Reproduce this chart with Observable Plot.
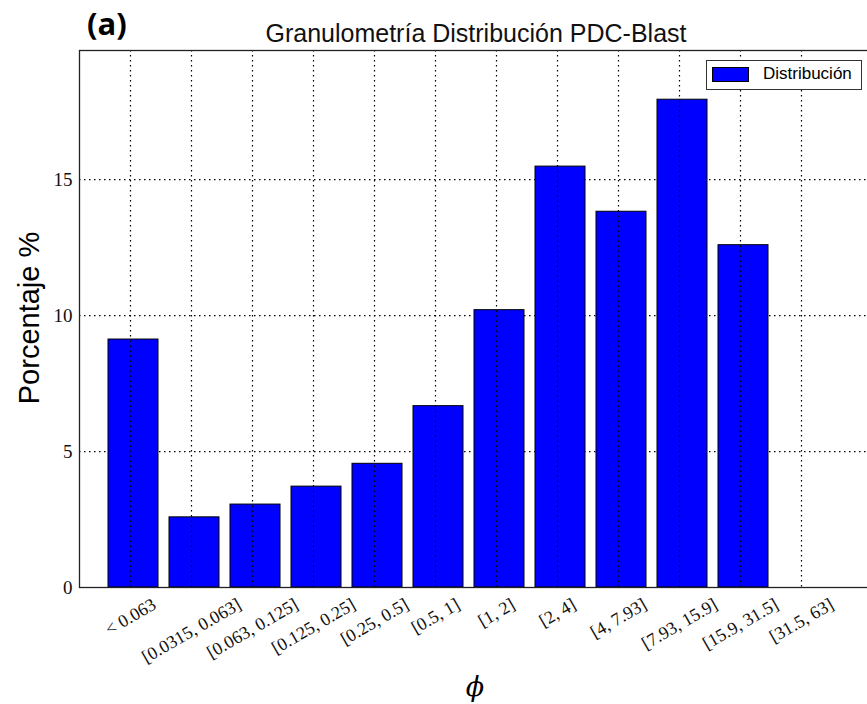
<!DOCTYPE html>
<html>
<head>
<meta charset="utf-8">
<script src="https://cdn.jsdelivr.net/npm/d3@7"></script>
<script src="https://cdn.jsdelivr.net/npm/@observablehq/plot@0.6"></script>
<style>
  html, body { margin: 0; padding: 0; background: #fff; }
  #wrap { position: relative; width: 867px; height: 704px; overflow: hidden; background: #fff; }
  #wrap svg { position: absolute; left: 0; top: 0; max-width: none !important; }
  .lbl { position: absolute; white-space: nowrap; line-height: 1; color: #000; }
  #title { left: 476px; top: 33px; transform: translate(-50%, -50%); font: 25px "Liberation Sans", Arial, sans-serif; color: #111; }
  #panel { left: 87px; top: 2px; font: bold 31px "Open Sans", "Liberation Sans", sans-serif; }
  #ylab { left: 29px; top: 318px; transform: translate(-50%, -50%) rotate(-90deg); font: 29px "Liberation Sans", Arial, sans-serif; }
  #xlab { left: 475px; top: 686px; transform: translate(-50%, -50%); font: italic 27px "DejaVu Serif", serif; }
  #legend { position: absolute; left: 706px; top: 60px; width: 154px; height: 28px; border: 1px solid #333; background: #fff; }
  #legend .sw { position: absolute; left: 5px; top: 6px; width: 35px; height: 13px; background: #0000ff; border: 1px solid #000; }
  #legend .tx { position: absolute; left: 56px; top: 4px; font: 17px "Liberation Sans", Arial, sans-serif; line-height: 1.1; }
</style>
</head>
<body>
<div id="wrap">
  <div id="panel" class="lbl">(a)</div>
  <div id="title" class="lbl">Granulometría Distribución PDC-Blast</div>
  <div id="ylab" class="lbl">Porcentaje %</div>
  <div id="xlab" class="lbl">ϕ</div>
  <div id="legend"><div class="sw"></div><div class="tx">Distribución</div></div>
</div>
<script>
// Categories (x tick labels) and values (percent)
const categories = ["< 0.063", "[0.0315, 0.063]", "[0.063, 0.125]", "[0.125, 0.25]", "[0.25, 0.5]", "[0.5, 1]", "[1, 2]", "[2, 4]", "[4, 7.93]", "[7.93, 15.9]", "[15.9, 31.5]", "[31.5, 63]"];
const percentages = [9.12, 2.58, 3.05, 3.71, 4.55, 6.67, 10.2, 15.48, 13.82, 17.94, 12.59, 0];
const yTicks = [0, 5, 10, 15];

const data = categories.map((c, i) => ({category: c, value: percentages[i]}));

// measure label widths for matplotlib-style centred rotated tick labels
const ctx = document.createElement("canvas").getContext("2d");
ctx.font = "18px 'Liberation Serif'";
const labelMarks = categories.map(c => {
  const w = ctx.measureText(c).width;
  return Plot.text([c], {
    x: d => d, frameAnchor: "bottom", rotate: -30, textAnchor: "middle", lineAnchor: "middle",
    dy: 10 + (0.5 * w + 0.866 * 13) / 2, fontSize: 18, fill: "#111"
  });
});

const chart = Plot.plot({
  width: 880,
  height: 704,
  marginLeft: 79,
  marginRight: 8,
  marginTop: 50,
  marginBottom: 117,
  style: {fontFamily: "'Liberation Serif', serif", fontSize: "18px", background: "transparent", color: "#111", maxWidth: "none"},
  x: {type: "band", domain: categories, paddingInner: 0.18, paddingOuter: 0.59, align: 0.361, axis: null},
  y: {domain: [0, 19.75], axis: null},
  marks: [
    Plot.ruleX(categories, {x: d => d, stroke: "#000", strokeWidth: 1.2, strokeDasharray: "1.5,3.5"}),
    Plot.ruleY(yTicks.filter(t => t > 0), {y: d => d, stroke: "#000", strokeWidth: 1.2, strokeDasharray: "1.5,3.5"}),
    Plot.barY(data, {x: "category", y: "value", fill: "#0000ff", stroke: "#000", strokeWidth: 1, dx: 3}),
    Plot.ruleX(categories, {x: d => d, y1: 0, y2: d => Math.min(percentages[categories.indexOf(d)], 19.75), stroke: "#000", strokeWidth: 1.2, strokeDasharray: "1.5,3.5"}),
    Plot.axisY({ticks: yTicks, tickSize: 0, tickPadding: 7, fontSize: 19, label: null, fill: "#111"}),
    Plot.frame({stroke: "#222", strokeWidth: 1.3}),
    ...labelMarks
  ]
});
document.getElementById("wrap").prepend(chart);
</script>
</body>
</html>
